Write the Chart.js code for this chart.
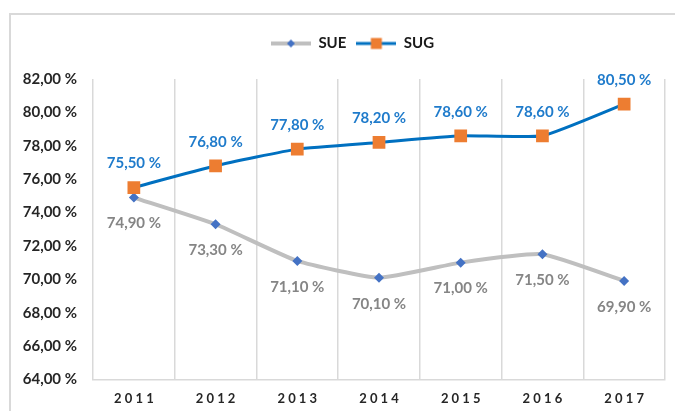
<!DOCTYPE html>
<html>
<head>
<meta charset="utf-8">
<script src="https://cdn.jsdelivr.net/npm/chart.js@4/dist/chart.umd.min.js"></script>
<style>
  body { margin: 0; background: #fff; }
  #wrap { position: relative; width: 675px; height: 411px; overflow: hidden; }
  #frame { position: absolute; left: 9px; top: 13px; width: 720px; height: 450px; border: 2px solid #d9d9d9; }
  #chart { position: absolute; left: 0; top: 0; }
</style>
</head>
<body>
<div id="wrap">
  <div id="frame"></div>
  <canvas id="chart" width="675" height="411"></canvas>
</div>
<script>
"use strict";

const years = ['2011', '2012', '2013', '2014', '2015', '2016', '2017'];
const sueValues = [74.9, 73.3, 71.1, 70.1, 71.0, 71.5, 69.9];
const sugValues = [75.5, 76.8, 77.8, 78.2, 78.6, 78.6, 80.5];

const yMin = 64;
const yMax = 82;
const yStep = 2;

const FONT = 'Lato, "DejaVu Sans", sans-serif';

// "75,50 %"
function pct(v) {
    return v.toFixed(2).replace('.', ',') + ' %';
}

// Liten ikon för legenden: linje med markör i mitten
function legendIcon(lineColor, lineWidth, marker) {
    const c = document.createElement('canvas');
    c.width = 40;
    c.height = 14;
    const ctx = c.getContext('2d');
    ctx.strokeStyle = lineColor;
    ctx.lineWidth = lineWidth;
    ctx.beginPath();
    ctx.moveTo(0, 7);
    ctx.lineTo(40, 7);
    ctx.stroke();
    if (marker === 'diamond') {
        ctx.fillStyle = '#4472c4';
        ctx.beginPath();
        ctx.moveTo(20, 3);
        ctx.lineTo(24, 7);
        ctx.lineTo(20, 11);
        ctx.lineTo(16, 7);
        ctx.closePath();
        ctx.fill();
    } else {
        ctx.fillStyle = '#ed7d31';
        ctx.fillRect(14.5, 1.5, 11, 11);
    }
    return c;
}

const icons = {
    SUE: legendIcon('#bfbfbf', 4, 'diamond'),
    SUG: legendIcon('#0070c0', 3, 'square')
};

// Värdeetiketter ovanför/under punkterna
const valueLabels = {
    id: 'valueLabels',
    afterDatasetsDraw(chart) {
        const ctx = chart.ctx;
        ctx.save();
        ctx.font = 'bold 15px ' + FONT;
        ctx.textAlign = 'center';
        ctx.textBaseline = 'middle';
        chart.data.datasets.forEach((ds, i) => {
            const meta = chart.getDatasetMeta(i);
            const above = ds.label === 'SUG';
            ctx.fillStyle = above ? '#1f7bcb' : '#858585';
            meta.data.forEach((pt, j) => {
                const y = above ? pt.y - 24 : pt.y + 26;
                ctx.fillText(pct(ds.data[j]), pt.x, y);
            });
        });
        ctx.restore();
    }
};

// Extra luft under legenden, och legenden lite åt höger
const legendSpace = {
    id: 'legendSpace',
    beforeInit(chart) {
        const fit = chart.legend.fit;
        chart.legend.fit = function () {
            fit.bind(chart.legend)();
            this.height += 18;
        };
    },
    afterLayout(chart) {
        chart.legend.left += 20;
        chart.legend.right += 20;
    }
};

new Chart(document.getElementById('chart'), {
    type: 'line',
    data: {
        labels: years,
        datasets: [{
            label: 'SUG',
            data: sugValues,
            borderColor: '#0070c0',
            borderWidth: 3,
            tension: 0.15,
            pointStyle: 'rect',
            pointRadius: 9,
            pointBackgroundColor: '#ed7d31',
            pointBorderColor: '#ed7d31',
            pointBorderWidth: 0
        }, {
            label: 'SUE',
            data: sueValues,
            borderColor: '#bfbfbf',
            borderWidth: 4,
            tension: 0.15,
            pointStyle: 'rectRot',
            pointRadius: 5,
            pointBackgroundColor: '#4472c4',
            pointBorderColor: '#4472c4',
            pointBorderWidth: 0
        }]
    },
    options: {
        responsive: false,
        animation: false,
        layout: {
            padding: { top: 26, right: 10, bottom: 0, left: 0 }
        },
        plugins: {
            legend: {
                reverse: true,
                labels: {
                    usePointStyle: true,
                    pointStyleWidth: 40,
                    padding: 10,
                    color: '#1a1a1a',
                    font: { family: FONT, size: 15, weight: 'bold' },
                    generateLabels(chart) {
                        const items = Chart.defaults.plugins.legend.labels.generateLabels(chart);
                        items.forEach(it => { it.pointStyle = icons[it.text]; });
                        return items;
                    }
                }
            },
            tooltip: { enabled: false }
        },
        scales: {
            x: {
                offset: true,
                grid: { offset: true, color: '#d9d9d9', lineWidth: 1.5, drawTicks: false },
                border: { color: '#d9d9d9', width: 1.5 },
                ticks: {
                    padding: 12,
                    color: '#262626',
                    font: { family: FONT, size: 13, weight: 'bold' },
                    callback(v) { return this.getLabelForValue(v).split('').join(' '); }
                },
                afterFit(scale) { scale.height = 31.5; }
            },
            y: {
                min: yMin,
                max: yMax,
                grid: { display: false, drawTicks: false },
                border: { display: false },
                ticks: {
                    stepSize: yStep,
                    padding: 16,
                    color: '#262626',
                    font: { family: FONT, size: 15, weight: 'bold' },
                    callback: v => pct(v)
                },
                afterFit(scale) { scale.width = 93; }
            }
        }
    },
    plugins: [legendSpace, valueLabels]
});
</script>
</body>
</html>
